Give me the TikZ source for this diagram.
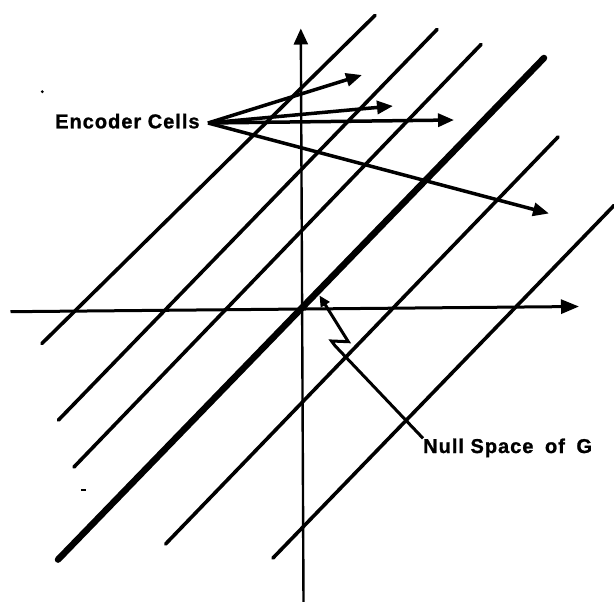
\documentclass[tikz,border=0pt]{standalone}
\usepackage{fontspec}
\newfontfamily\lblfont{Liberation Sans Bold}[LetterSpace=5,FakeBold=1.2]
\usetikzlibrary{arrows.meta}
\begin{document}
\begin{tikzpicture}[x=1pt,y=-1pt,
  cellline/.style={line width=3.6pt,line cap=round},
  nullline/.style={line width=6.5pt,line cap=round},
  axisline/.style={line width=3pt},
  vaxisline/.style={line width=2.4pt},
  encarrow/.style={line width=3.5pt,-{Triangle[length=16pt,width=13pt]}},
  nullarrow/.style={line width=3pt,line join=miter,-{Triangle[length=11pt,width=10pt]}},
  lbl/.style={font=\lblfont\fontsize{20}{22}\selectfont,inner sep=0pt,anchor=base west}]
\useasboundingbox (0,0) rectangle (614,602);
% parallel lines (cosets)
\coordinate (l1a) at (41.9,343.5); \coordinate (l1b) at (375,15.4);
\coordinate (l2a) at (58.5,420);   \coordinate (l2b) at (437,29.5);
\coordinate (l3a) at (74,467);     \coordinate (l3b) at (481,44.5);
\coordinate (l4a) at (58,559.6);   \coordinate (l4b) at (544,58);
\coordinate (l5a) at (165.6,544);  \coordinate (l5b) at (558,137);
\coordinate (l6a) at (273,558);    \coordinate (l6b) at (614,205.5);
\draw[cellline] (l1a) -- (l1b);
\draw[cellline] (l2a) -- (l2b);
\draw[cellline] (l3a) -- (l3b);
\draw[nullline] (l4a) -- (l4b);
\draw[cellline] (l5a) -- (l5b);
\draw[cellline] (l6a) -- (l6b);
% axes
\coordinate (xl) at (10.5,311.7); \coordinate (xr) at (579,306.5);
\coordinate (yb) at (303.5,602);  \coordinate (yt) at (300.8,28.5);
\draw[axisline,-{Triangle[length=18pt,width=14pt]}] (xl) -- (xr);
\draw[vaxisline,-{Triangle[length=16pt,width=14pt]}] (yb) -- (yt);
% labels
\node[lbl] (enc) at (55,128.3) {Encoder Cells};
\node[lbl] (null) at (423,453) {Null Space\hspace{5pt} of\hspace{5pt} G};
% encoder arrows
\coordinate (encsrc) at (208,123);
\coordinate (ta) at (362,75);
\coordinate (tb) at (393,106);
\coordinate (tc) at (454,120);
\coordinate (td) at (549,213.5);
\draw[encarrow] (encsrc) -- (ta);
\draw[encarrow] (encsrc) -- (tb);
\draw[encarrow] (encsrc) -- (tc);
\draw[encarrow] (encsrc) -- (td);
% null space pointer
\coordinate (zd) at (335,345.7);
\coordinate (zc) at (331.5,341);
\coordinate (zb) at (348.3,341.7);
\coordinate (ztip) at (319.5,295.5);
\draw[nullarrow] (null.north west) -- (zd) -- (zc) -- (zb) -- (ztip);
% stray marks of the original
\fill (42.3,91.7) circle (1.6);
\draw[line width=1.4pt] (81,490) -- (85.5,490);
\end{tikzpicture}
\end{document}
